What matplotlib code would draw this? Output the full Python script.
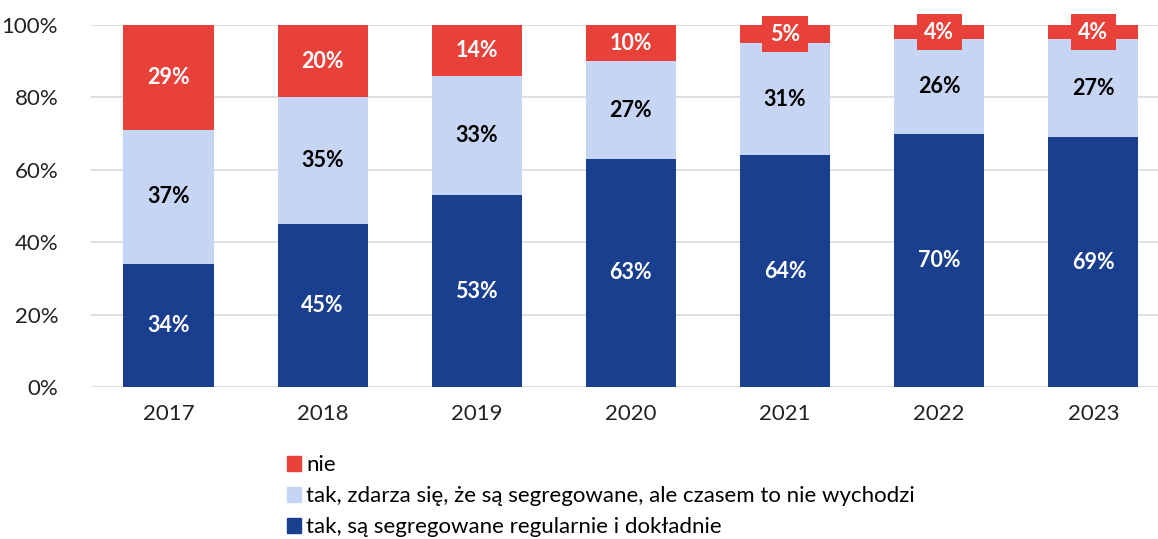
import matplotlib.pyplot as plt
from matplotlib.patches import Patch

plt.rcParams["font.family"] = ["Lato", "DejaVu Sans"]

years = ["2017", "2018", "2019", "2020", "2021", "2022", "2023"]
regular = [34, 45, 53, 63, 64, 70, 69]
sometimes = [37, 35, 33, 27, 31, 26, 27]
no = [29, 20, 14, 10, 5, 4, 4]

labels = [
    "tak, są segregowane regularnie i dokładnie",
    "tak, zdarza się, że są segregowane, ale czasem to nie wychodzi",
    "nie",
]
c_dark = "#1B3F8F"
c_light = "#C5D5F3"
c_red = "#E84139"

fig = plt.figure(figsize=(11.58, 5.39), dpi=100)
ax = fig.add_axes([0.079, 0.282, 0.921, 0.6716])

x = range(len(years))
w = 0.585
ax.bar(x, regular, w, color=c_dark, zorder=2)
ax.bar(x, sometimes, w, bottom=regular, color=c_light, zorder=2)
bottoms = [a + b for a, b in zip(regular, sometimes)]
ax.bar(x, no, w, bottom=bottoms, color=c_red, zorder=2)

fs = 15.5
for i in x:
    ax.text(i, regular[i] / 2, f"{regular[i]}%", ha="center", va="center",
            color="white", fontsize=fs, fontweight="bold", zorder=3)
    ax.text(i, regular[i] + sometimes[i] / 2, f"{sometimes[i]}%", ha="center",
            va="center", color="black", fontsize=fs, fontweight="bold", zorder=3)
    ax.text(i, bottoms[i] + no[i] / 2, f"{no[i]}%", ha="center", va="center",
            color="white", fontsize=fs, fontweight="bold", zorder=4,
            bbox=dict(boxstyle="square,pad=0.35", fc=c_red, ec="none"))

ax.set_xlim(-0.5, 6.42)
ax.set_ylim(0, 100)
ax.set_yticks(range(0, 101, 20))
ax.set_yticklabels([f"{v}%" for v in range(0, 101, 20)])
ax.set_xticks(list(x))
ax.set_xticklabels(years)
ax.tick_params(length=0, labelsize=16, colors="#222222")
ax.tick_params(axis="x", pad=12)
ax.tick_params(axis="y", pad=24)
ax.grid(axis="y", color="#D9D9D9", linewidth=1.2, zorder=0)
for s in ax.spines.values():
    s.set_visible(False)

handles = [Patch(color=c_red), Patch(color=c_light), Patch(color=c_dark)]
fig.legend(handles, labels[::-1], loc="upper left", bbox_to_anchor=(0.24, 0.172),
           frameon=False, fontsize=16, handlelength=0.62, handleheight=0.62,
           handletextpad=0.25, labelspacing=0.5, borderaxespad=0)

plt.savefig("out.png", dpi=100)
